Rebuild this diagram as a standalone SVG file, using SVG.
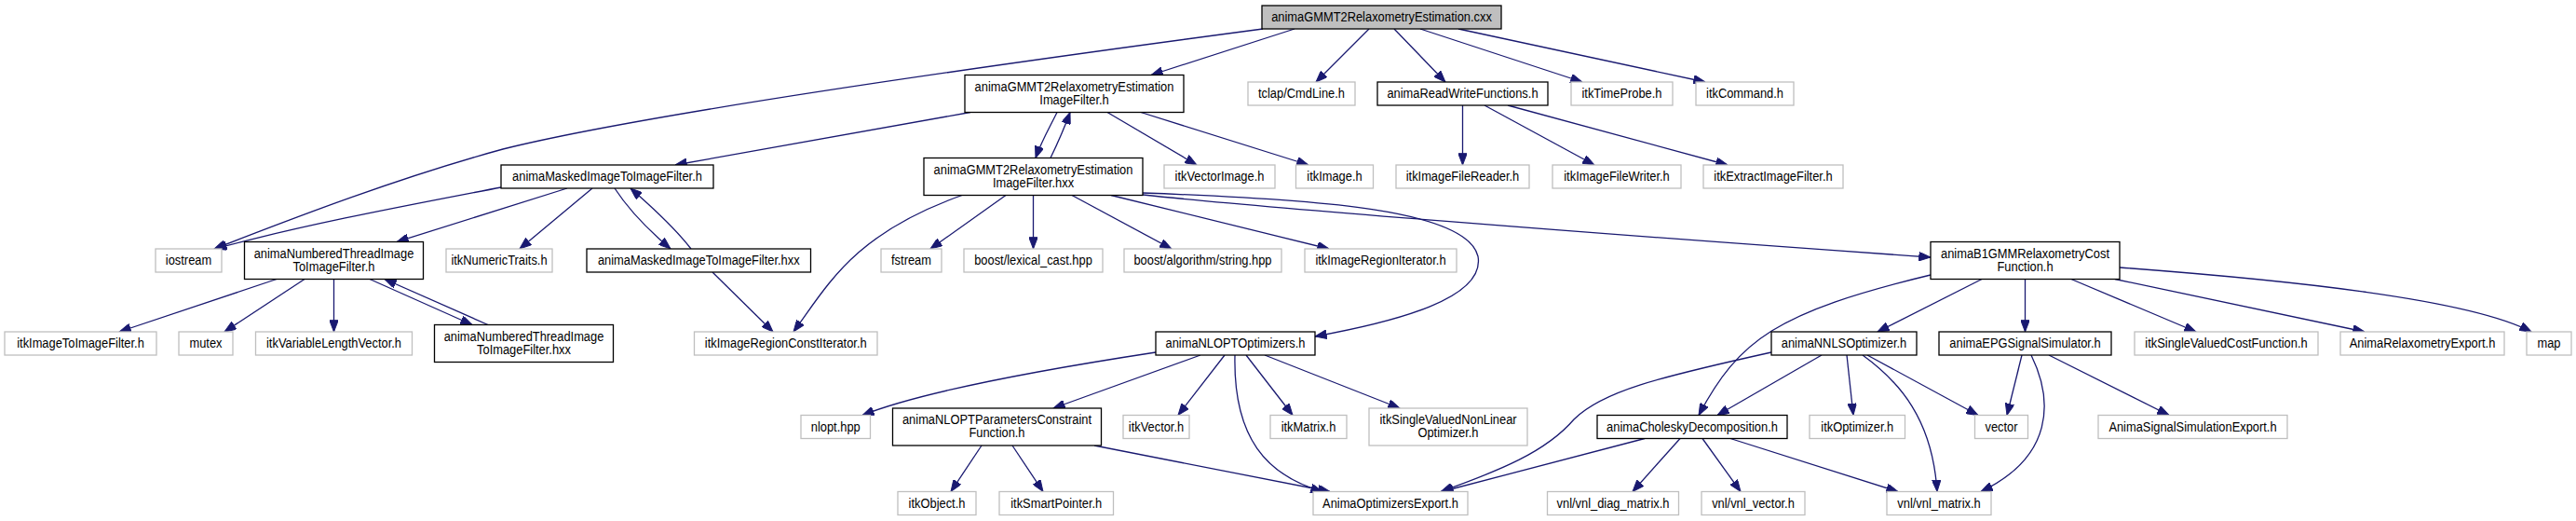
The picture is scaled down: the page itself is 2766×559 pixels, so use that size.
<svg xmlns="http://www.w3.org/2000/svg" width="2766" height="559" viewBox="0 0 2766 559">
<style>
.n rect{fill:#fff;stroke:#000;stroke-width:1.3}
.g rect{fill:#fff;stroke:#bfbfbf;stroke-width:1.3}
.root rect{fill:#bfbfbf;stroke:#000;stroke-width:1.3}
text{font-family:"Liberation Sans",Arial,Helvetica,sans-serif;font-size:14px;fill:#000;text-anchor:middle;transform-box:fill-box;transform-origin:center;transform:scaleX(0.92)}
#edges path{fill:none;stroke:#191970;stroke-width:1.3;marker-end:url(#arr)}
</style>
<defs>
<marker id="arr" viewBox="0 0 13 10" refX="13" refY="5" markerWidth="13" markerHeight="9.5" markerUnits="userSpaceOnUse" orient="auto">
<path d="M0,0 L13,5 L0,10 z" fill="#191970" stroke="#191970" stroke-width="1"/>
</marker>
</defs>
<rect x="0" y="0" width="2766" height="559" fill="#fff"/>
<g id="edges">
<path d="M1356,31 C1100,65 700,120 540,160 C430,190 320,232 230,267"/>
<path d="M1390,31 L1236,80.5"/>
<path d="M1470,31 L1413,88"/>
<path d="M1497,31 L1552,88"/>
<path d="M1525,31 L1699,88"/>
<path d="M1566,31 L1831,88"/>
<path d="M1042,120.5 L725,177"/>
<path d="M1135,120.5 C1128,135 1118,152 1112,169.5"/>
<path d="M1128,169.5 C1135,155 1143,137 1149,120.5"/>
<path d="M1189,120.5 L1285,177"/>
<path d="M1225,120.5 L1405,177"/>
<path d="M538,201 C450,218 330,240 231,267"/>
<path d="M609,202 L426,259.5"/>
<path d="M636,202 L558,267"/>
<path d="M660,202 C675,225 700,250 720,267"/>
<path d="M742,267 C725,245 700,222 677,202"/>
<path d="M1033,209.5 C916,251 889,306 852,356"/>
<path d="M1080,209.5 L999,267"/>
<path d="M1109.5,209.5 L1109.5,267"/>
<path d="M1151,209.5 L1258,267"/>
<path d="M1193,209.5 L1427,267"/>
<path d="M1227,207 C1420,214 1575,225 1587,275 C1595,320 1500,345 1412,361"/>
<path d="M1227,209 C1350,222 1700,250 2073,276"/>
<path d="M297,299.5 L128,356"/>
<path d="M327,299.5 L241,356"/>
<path d="M358.5,299.5 L358.5,356"/>
<path d="M397,299.5 L507,348.5"/>
<path d="M524,348.5 L413,299.5"/>
<path d="M765,292 L830,356"/>
<path d="M1570.5,113 L1570.5,177"/>
<path d="M1594,113 L1712,177"/>
<path d="M1619,113 L1855,177"/>
<path d="M2073,295 C1907,335 1867,365 1824,445.5"/>
<path d="M2128,299.5 L2016,356"/>
<path d="M2174.5,299.5 L2174.5,356"/>
<path d="M2224,299.5 L2358,356"/>
<path d="M2271,299.5 L2539,356"/>
<path d="M2276,287 C2450,300 2650,320 2718,356"/>
<path d="M1241,378 C1110,398 990,420 926,445.5"/>
<path d="M1289,381 L1131,438"/>
<path d="M1315,381 L1265,445.5"/>
<path d="M1338,381 L1388,445.5"/>
<path d="M1326,381 C1324,470 1360,510 1420,527.5"/>
<path d="M1358,381 L1503,438"/>
<path d="M1054,478 L1021,527.5"/>
<path d="M1087,478 L1120,527.5"/>
<path d="M1175,478 L1428,527.5"/>
<path d="M1902,378 C1780,405 1720,420 1690,450 C1660,485 1610,505 1547,527.5"/>
<path d="M1956,381 L1844,445.5"/>
<path d="M1983,381 L1990,445.5"/>
<path d="M2000,381 C2040,410 2075,450 2080,527.5"/>
<path d="M2005,381 L2124,445.5"/>
<path d="M2171,381 L2155,445.5"/>
<path d="M2181,381 C2205,430 2205,490 2127,527.5"/>
<path d="M2200,381 L2329,445.5"/>
<path d="M1766,470.5 L1548,527.5"/>
<path d="M1804,470.5 L1753,527.5"/>
<path d="M1828,470.5 L1869,527.5"/>
<path d="M1858,470.5 L2038,527.5"/>
</g>
<g id="n_top" class="root"><rect x="1355" y="6" width="257" height="25"/><text x="1483.5" y="23.5">animaGMMT2RelaxometryEstimation.cxx</text></g>
<g id="n_gmmt2h" class="n"><rect x="1036" y="80.5" width="235" height="40"/><text x="1153.5" y="98">animaGMMT2RelaxometryEstimation</text><text x="1153.5" y="112">ImageFilter.h</text></g>
<g id="n_tclap" class="g"><rect x="1340" y="88" width="115" height="25"/><text x="1397.5" y="105.5">tclap/CmdLine.h</text></g>
<g id="n_readwrite" class="n"><rect x="1479" y="88" width="183" height="25"/><text x="1570.5" y="105.5">animaReadWriteFunctions.h</text></g>
<g id="n_timeprobe" class="g"><rect x="1687" y="88" width="109" height="25"/><text x="1741.5" y="105.5">itkTimeProbe.h</text></g>
<g id="n_command" class="g"><rect x="1821" y="88" width="105" height="25"/><text x="1873.5" y="105.5">itkCommand.h</text></g>
<g id="n_masked_h" class="n"><rect x="538" y="177" width="228" height="25"/><text x="652" y="194.5">animaMaskedImageToImageFilter.h</text></g>
<g id="n_gmmt2hxx" class="n"><rect x="992" y="169.5" width="235" height="40"/><text x="1109.5" y="187">animaGMMT2RelaxometryEstimation</text><text x="1109.5" y="201">ImageFilter.hxx</text></g>
<g id="n_vectorimage" class="g"><rect x="1250" y="177" width="119" height="25"/><text x="1309.5" y="194.5">itkVectorImage.h</text></g>
<g id="n_itkimage" class="g"><rect x="1391.5" y="177" width="83" height="25"/><text x="1433" y="194.5">itkImage.h</text></g>
<g id="n_filereader" class="g"><rect x="1499" y="177" width="143" height="25"/><text x="1570.5" y="194.5">itkImageFileReader.h</text></g>
<g id="n_filewriter" class="g"><rect x="1667" y="177" width="138" height="25"/><text x="1736" y="194.5">itkImageFileWriter.h</text></g>
<g id="n_extract" class="g"><rect x="1829" y="177" width="150" height="25"/><text x="1904" y="194.5">itkExtractImageFilter.h</text></g>
<g id="n_iostream" class="g"><rect x="167" y="267" width="71" height="25"/><text x="202.5" y="284.5">iostream</text></g>
<g id="n_numbered_h" class="n"><rect x="262.5" y="259.5" width="192" height="40"/><text x="358.5" y="277">animaNumberedThreadImage</text><text x="358.5" y="291">ToImageFilter.h</text></g>
<g id="n_numerictraits" class="g"><rect x="479" y="267" width="114" height="25"/><text x="536" y="284.5">itkNumericTraits.h</text></g>
<g id="n_masked_hxx" class="n"><rect x="630" y="267" width="240.5" height="25"/><text x="750.25" y="284.5">animaMaskedImageToImageFilter.hxx</text></g>
<g id="n_fstream" class="g"><rect x="946" y="267" width="65" height="25"/><text x="978.5" y="284.5">fstream</text></g>
<g id="n_lexical" class="g"><rect x="1035" y="267" width="149" height="25"/><text x="1109.5" y="284.5">boost/lexical_cast.hpp</text></g>
<g id="n_string" class="g"><rect x="1207" y="267" width="169" height="25"/><text x="1291.5" y="284.5">boost/algorithm/string.hpp</text></g>
<g id="n_regioniter" class="g"><rect x="1401" y="267" width="163" height="25"/><text x="1482.5" y="284.5">itkImageRegionIterator.h</text></g>
<g id="n_b1gmm" class="n"><rect x="2073" y="259.5" width="203" height="40"/><text x="2174.5" y="277">animaB1GMMRelaxometryCost</text><text x="2174.5" y="291">Function.h</text></g>
<g id="n_imagetoimage" class="g"><rect x="5" y="356" width="163" height="25"/><text x="86.5" y="373.5">itkImageToImageFilter.h</text></g>
<g id="n_mutex" class="g"><rect x="192" y="356" width="58" height="25"/><text x="221" y="373.5">mutex</text></g>
<g id="n_varlen" class="g"><rect x="274.5" y="356" width="168" height="25"/><text x="358.5" y="373.5">itkVariableLengthVector.h</text></g>
<g id="n_numbered_hxx" class="n"><rect x="466.5" y="348.5" width="192" height="40"/><text x="562.5" y="366">animaNumberedThreadImage</text><text x="562.5" y="380">ToImageFilter.hxx</text></g>
<g id="n_regionconst" class="g"><rect x="745.5" y="356" width="196.5" height="25"/><text x="843.75" y="373.5">itkImageRegionConstIterator.h</text></g>
<g id="n_nlopt" class="n"><rect x="1241" y="356" width="171" height="25"/><text x="1326.5" y="373.5">animaNLOPTOptimizers.h</text></g>
<g id="n_nnls" class="n"><rect x="1902" y="356" width="156" height="25"/><text x="1980" y="373.5">animaNNLSOptimizer.h</text></g>
<g id="n_epg" class="n"><rect x="2082" y="356" width="185" height="25"/><text x="2174.5" y="373.5">animaEPGSignalSimulator.h</text></g>
<g id="n_singlecost" class="g"><rect x="2292" y="356" width="197" height="25"/><text x="2390.5" y="373.5">itkSingleValuedCostFunction.h</text></g>
<g id="n_relaxexport" class="g"><rect x="2513" y="356" width="176" height="25"/><text x="2601" y="373.5">AnimaRelaxometryExport.h</text></g>
<g id="n_map" class="g"><rect x="2713" y="356" width="48" height="25"/><text x="2737" y="373.5">map</text></g>
<g id="n_nlopthpp" class="g"><rect x="860" y="445.5" width="74.5" height="25"/><text x="897.25" y="463">nlopt.hpp</text></g>
<g id="n_paramconstraint" class="n"><rect x="958.5" y="438" width="224" height="40"/><text x="1070.5" y="455.5">animaNLOPTParametersConstraint</text><text x="1070.5" y="469.5">Function.h</text></g>
<g id="n_itkvector" class="g"><rect x="1206" y="445.5" width="71" height="25"/><text x="1241.5" y="463">itkVector.h</text></g>
<g id="n_itkmatrix" class="g"><rect x="1364" y="445.5" width="82" height="25"/><text x="1405" y="463">itkMatrix.h</text></g>
<g id="n_nonlinear" class="g"><rect x="1470" y="438" width="170" height="40"/><text x="1555" y="455.5">itkSingleValuedNonLinear</text><text x="1555" y="469.5">Optimizer.h</text></g>
<g id="n_cholesky" class="n"><rect x="1715" y="445.5" width="204" height="25"/><text x="1817" y="463">animaCholeskyDecomposition.h</text></g>
<g id="n_itkoptimizer" class="g"><rect x="1943" y="445.5" width="102.5" height="25"/><text x="1994.25" y="463">itkOptimizer.h</text></g>
<g id="n_vector" class="g"><rect x="2120.5" y="445.5" width="57" height="25"/><text x="2149" y="463">vector</text></g>
<g id="n_signalexport" class="g"><rect x="2253" y="445.5" width="203" height="25"/><text x="2354.5" y="463">AnimaSignalSimulationExport.h</text></g>
<g id="n_itkobject" class="g"><rect x="964" y="527.5" width="84" height="25"/><text x="1006" y="545">itkObject.h</text></g>
<g id="n_smartpointer" class="g"><rect x="1073" y="527.5" width="122.5" height="25"/><text x="1134.25" y="545">itkSmartPointer.h</text></g>
<g id="n_optexport" class="g"><rect x="1410" y="527.5" width="166" height="25"/><text x="1493" y="545">AnimaOptimizersExport.h</text></g>
<g id="n_diagmatrix" class="g"><rect x="1661.5" y="527.5" width="141" height="25"/><text x="1732" y="545">vnl/vnl_diag_matrix.h</text></g>
<g id="n_vnlvector" class="g"><rect x="1827" y="527.5" width="111" height="25"/><text x="1882.5" y="545">vnl/vnl_vector.h</text></g>
<g id="n_vnlmatrix" class="g"><rect x="2026" y="527.5" width="112" height="25"/><text x="2082" y="545">vnl/vnl_matrix.h</text></g>
</svg>
